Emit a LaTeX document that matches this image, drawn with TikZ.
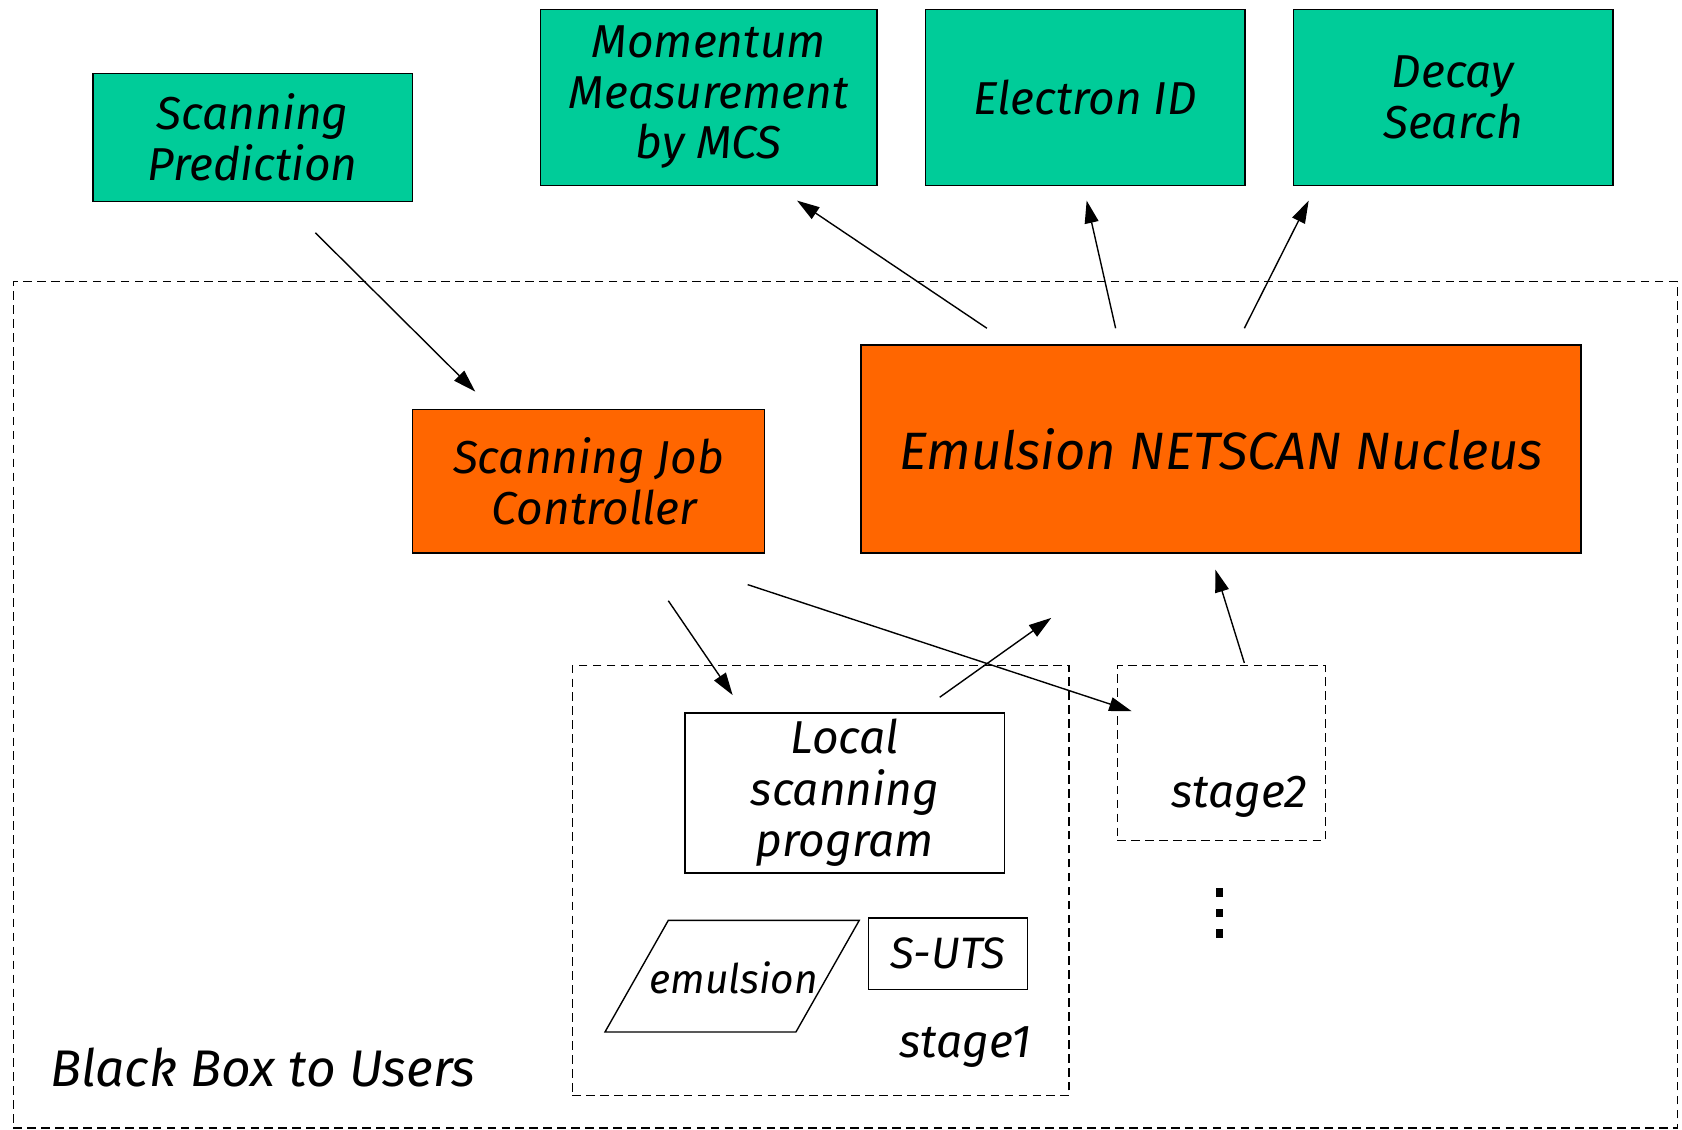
\documentclass[tikz,border=0pt]{standalone}
\usepackage{fontspec}
\setmainfont{Fira Sans}
\usetikzlibrary{arrows.meta}
\definecolor{boxgreen}{RGB}{0,204,153}
\definecolor{boxorange}{RGB}{255,102,0}
\tikzset{
  base/.style={anchor=north west, inner sep=0pt, align=center, line width=1.3pt},
  greenbox/.style={base, draw=black, fill=boxgreen, font=\fontsize{43}{47}\selectfont\itshape},
  orangebox/.style={base, draw=black, fill=boxorange, font=\fontsize{43}{47}\selectfont\itshape},
  whitebox/.style={base, draw=black, fill=white, font=\fontsize{43}{48}\selectfont\itshape},
  dashbox/.style={base, draw=black, dash pattern=on 8pt off 5pt, line width=1.1pt},
  lbl/.style={inner sep=0pt, font=\fontsize{43}{48}\selectfont\itshape},
  arr/.style={-{Triangle[length=21pt,width=13pt]}, line width=1.3pt},
}
\begin{document}
\begin{tikzpicture}[x=1pt,y=-1pt]
\useasboundingbox (0,0) rectangle (1568,1053);
% outer black box
\node[dashbox, minimum width=1551pt, minimum height=789pt] (outer) at (12,262) {};
\node[lbl, font=\fontsize{48}{52}\selectfont\itshape] (bbu) at (245,995) {Black Box to Users};
% top green boxes
\node[greenbox, minimum width=298pt, minimum height=119pt] (pred) at (86,68) {Scanning\\Prediction};
\node[greenbox, minimum width=314pt, minimum height=164pt] (mom) at (503,8) {Momentum\\Measurement\\by MCS};
\node[greenbox, minimum width=298pt, minimum height=164pt] (eid) at (862,8) {Electron ID};
\node[greenbox, minimum width=298pt, minimum height=164pt] (decay) at (1205,8) {Decay\\Search};
% orange boxes
\node[orangebox, minimum width=671pt, minimum height=194pt, font=\fontsize{49}{52}\selectfont\itshape] (nuc) at (802,321) {Emulsion NETSCAN Nucleus};
\node[orangebox, minimum width=328pt, minimum height=134pt] (sjc) at (384,381) {Scanning Job\\\ Controller};
% stages
\node[dashbox, minimum width=463pt, minimum height=401pt] (stage1) at (533,620) {};
\node[dashbox, minimum width=194pt, minimum height=163pt] (stage2) at (1041,620) {};
\node[whitebox, minimum width=298pt, minimum height=149pt] (lsp) at (638,664) {Local\\scanning\\program};
\node[whitebox, minimum width=148pt, minimum height=67pt, font=\fontsize{41}{48}\selectfont\itshape] (suts) at (809,855) {S-UTS};
\draw[line width=1.3pt, fill=white] (564,962) -- (623,858) -- (801,858) -- (742,962) -- cycle;
\node[lbl, font=\fontsize{38}{40}\selectfont\itshape] (emul) at (684,912) {emulsion};
\node[lbl] (s1lbl) at (900,976) {stage1};
\node[lbl] (s2lbl) at (1155,743) {stage2};
% vertical dots
\foreach \yy in {828,847,866}
  \fill (1134,\yy) rectangle (1140,\yy+8);
% arrow end points
\coordinate (p1) at (294,217); \coordinate (q1) at (443,365);
\coordinate (p2) at (920,306); \coordinate (q2) at (743,187);
\coordinate (p3) at (1040,306); \coordinate (q3) at (1013,187);
\coordinate (p4) at (1160,306); \coordinate (q4) at (1220,187);
\coordinate (p5) at (623,560); \coordinate (q5) at (683,648);
\coordinate (p6) at (697,545); \coordinate (q6) at (1055,663);
\coordinate (p7) at (876,650); \coordinate (q7) at (980,576);
\coordinate (p8) at (1160,618); \coordinate (q8) at (1133,531);
\foreach \i in {1,...,8} \draw[arr] (p\i) -- (q\i);
\end{tikzpicture}
\end{document}
